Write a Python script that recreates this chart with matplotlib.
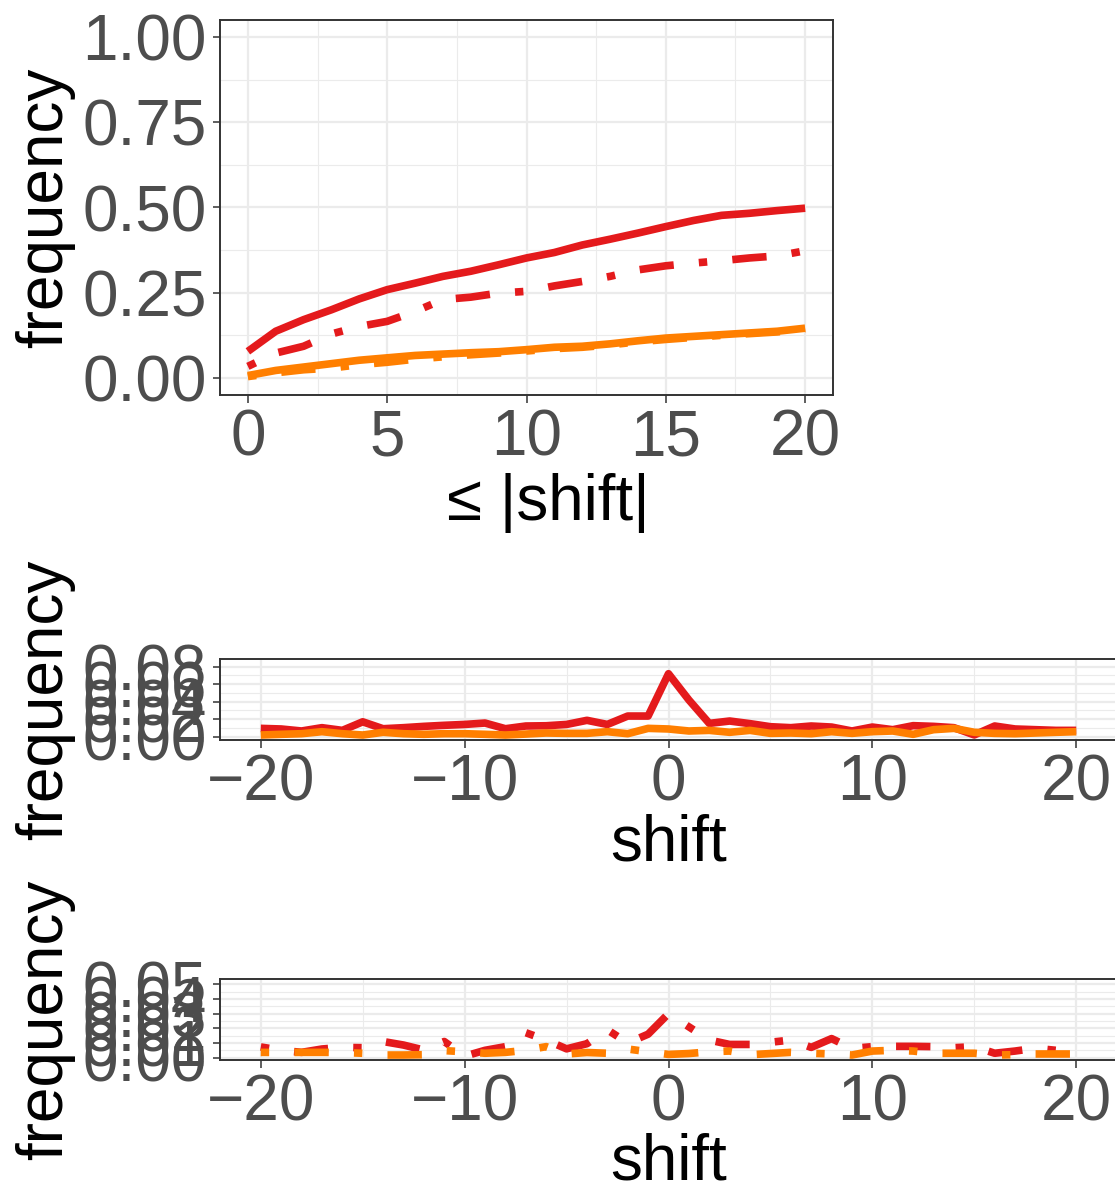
import matplotlib

matplotlib.use('Agg')
import matplotlib.pyplot as plt
import matplotlib.ticker as ticker
import numpy as np

plt.rcParams['font.family'] = ['Liberation Sans', 'DejaVu Sans']

# ---- data ----
# top panel: cumulative frequency for |shift| <= x
cum_x = list(range(0, 21))
cum_red_solid = [0.078, 0.137, 0.171, 0.200, 0.232, 0.259, 0.278, 0.298, 0.313, 0.332,
                 0.352, 0.368, 0.390, 0.407, 0.425, 0.444, 0.462, 0.477, 0.483, 0.491, 0.498]
cum_red_dash = [0.034, 0.073, 0.093, 0.129, 0.151, 0.166, 0.195, 0.230, 0.237, 0.249,
                0.254, 0.270, 0.283, 0.298, 0.317, 0.329, 0.337, 0.344, 0.352, 0.358, 0.373]
cum_orange_solid = [0.007, 0.022, 0.032, 0.042, 0.052, 0.059, 0.066, 0.070, 0.074, 0.077,
                    0.083, 0.090, 0.093, 0.100, 0.109, 0.117, 0.122, 0.127, 0.132, 0.137, 0.146]
cum_orange_dash = [0.004, 0.015, 0.024, 0.029, 0.039, 0.046, 0.055, 0.062, 0.068, 0.073,
                   0.079, 0.086, 0.090, 0.097, 0.106, 0.113, 0.119, 0.125, 0.130, 0.135, 0.143]

# middle / bottom panels: frequency per shift
shift_x = list(range(-20, 21))
mid_red = [0.0095, 0.0088, 0.0065, 0.0103, 0.0072, 0.0170, 0.0091, 0.0103, 0.0118, 0.0130,
           0.0140, 0.0156, 0.0091, 0.0122, 0.0125, 0.0140, 0.0187, 0.0140, 0.0236, 0.0236,
           0.0720, 0.0420, 0.0152, 0.0179, 0.0149, 0.0114, 0.0103, 0.0122, 0.0110, 0.0065,
           0.0110, 0.0080, 0.0126, 0.0118, 0.0103, 0.0020, 0.0122, 0.0088, 0.0080, 0.0072, 0.0072]
mid_orange = [0.0019, 0.0027, 0.0034, 0.0057, 0.0034, 0.0019, 0.0050, 0.0034, 0.0027, 0.0034,
              0.0034, 0.0027, 0.0019, 0.0030, 0.0042, 0.0038, 0.0038, 0.0057, 0.0034, 0.0095,
              0.0088, 0.0065, 0.0072, 0.0050, 0.0072, 0.0038, 0.0042, 0.0034, 0.0057, 0.0038,
              0.0057, 0.0065, 0.0027, 0.0080, 0.0095, 0.0050, 0.0038, 0.0034, 0.0042, 0.0050, 0.0057]
bot_red = [0.0073, 0.0050, 0.0036, 0.0059, 0.0070, 0.0068, 0.0110, 0.0086, 0.0052, 0.0110,
           0.0010, 0.0050, 0.0075, 0.0170, 0.0120, 0.0060, 0.0095, 0.0190, 0.0100, 0.0160,
           0.0300, 0.0210, 0.0120, 0.0090, 0.0090, 0.0105, 0.0120, 0.0070, 0.0130, 0.0063,
           0.0075, 0.0077, 0.0077, 0.0075, 0.0068, 0.0075, 0.0030, 0.0045, 0.0064, 0.0050, 0.0040]
bot_orange = [0.0036, 0.0035, 0.0036, 0.0036, 0.0035, 0.0030, 0.0018, 0.0018, 0.0020, 0.0048,
              0.0040, 0.0030, 0.0036, 0.0050, 0.0075, 0.0025, 0.0035, 0.0030, 0.0059, 0.0040,
              0.0022, 0.0028, 0.0040, 0.0045, 0.0020, 0.0028, 0.0036, 0.0030, 0.0025, 0.0018,
              0.0045, 0.0050, 0.0045, 0.0030, 0.0030, 0.0030, 0.0018, 0.0020, 0.0025, 0.0025, 0.0025]

RED = '#E41A1C'
ORANGE = '#FF7F00'
LW = 5.5
DOTDASH = (0, (1.1, 3.3, 4.5, 3.3))
FS = 46


def style_axes(ax, xmajor, xminor, ymajor, yminor):
    ax.set_facecolor('white')
    ax.xaxis.set_major_locator(ticker.MultipleLocator(xmajor))
    ax.xaxis.set_minor_locator(ticker.MultipleLocator(xminor))
    ax.yaxis.set_major_locator(ticker.MultipleLocator(ymajor))
    ax.yaxis.set_minor_locator(ticker.MultipleLocator(yminor))
    ax.grid(which='major', color='#EBEBEB', linewidth=1.6)
    ax.grid(which='minor', color='#EBEBEB', linewidth=0.8)
    ax.set_axisbelow(True)
    for sp in ax.spines.values():
        sp.set_color('#333333')
        sp.set_linewidth(1.4)
    ax.tick_params(which='major', length=5.4, width=1.1, color='#333333',
                   labelsize=FS, labelcolor='#4D4D4D', pad=4)
    ax.tick_params(which='minor', length=0)


def draw(ax, x, y, color, ls):
    ax.plot(x, y, color=color, linewidth=LW, linestyle=ls,
            solid_capstyle='butt', dash_capstyle='butt',
            solid_joinstyle='round', dash_joinstyle='round')


fig = plt.figure(figsize=(11.15, 11.85), dpi=100)
W, H = 1115.0, 1185.0


def px_axes(left, top, right, bottom):
    return fig.add_axes([left / W, 1 - bottom / H, (right - left) / W, (bottom - top) / H])


# top panel
ax1 = px_axes(220, 20, 833, 395)
draw(ax1, cum_x, cum_red_dash, RED, DOTDASH)
draw(ax1, cum_x, cum_red_solid, RED, '-')
draw(ax1, cum_x, cum_orange_dash, ORANGE, DOTDASH)
draw(ax1, cum_x, cum_orange_solid, ORANGE, '-')
ax1.set_xlim(-1, 21)
ax1.set_ylim(-0.05, 1.05)
style_axes(ax1, 5, 2.5, 0.25, 0.125)
ax1.yaxis.set_major_formatter(ticker.FormatStrFormatter('%.2f'))
ax1.set_xlabel('\u2264 |shift|', fontsize=FS, color='k', va='baseline')
ax1.xaxis.set_label_coords((548 - 220) / 613.0, (395 - 520) / 375.0)
ax1.set_ylabel('frequency', fontsize=FS, color='k', va='baseline')
ax1.yaxis.set_label_coords((62 - 220) / 613.0, 0.5)

# middle panel
ax2 = px_axes(220, 659.3, 1117, 740)
draw(ax2, shift_x, mid_red, RED, '-')
draw(ax2, shift_x, mid_orange, ORANGE, '-')
ax2.set_xlim(-22, 22)
ax2.set_ylim(-0.0038, 0.0885)
style_axes(ax2, 10, 5, 0.02, 0.01)
ax2.yaxis.set_major_formatter(ticker.FormatStrFormatter('%.2f'))
ax2.set_xlabel('shift', fontsize=FS, color='k', va='baseline')
ax2.xaxis.set_label_coords(0.5, (740 - 860) / 80.7)
ax2.set_ylabel('frequency', fontsize=FS, color='k', va='baseline')
ax2.yaxis.set_label_coords((62 - 220) / 897.0, 0.5)

# bottom panel
ax3 = px_axes(220, 979.3, 1117, 1060)
draw(ax3, shift_x, bot_red, RED, DOTDASH)
draw(ax3, shift_x, bot_orange, ORANGE, DOTDASH)
ax3.set_xlim(-22, 22)
ax3.set_ylim(-0.0016, 0.0534)
style_axes(ax3, 10, 5, 0.01, 0.005)
ax3.yaxis.set_major_formatter(ticker.FormatStrFormatter('%.2f'))
ax3.set_xlabel('shift', fontsize=FS, color='k', va='baseline')
ax3.xaxis.set_label_coords(0.5, (1060 - 1180) / 80.7)
ax3.set_ylabel('frequency', fontsize=FS, color='k', va='baseline')
ax3.yaxis.set_label_coords((62 - 220) / 897.0, 0.5)

fig.savefig('out.png', dpi=100, facecolor='white')
plt.close('all')
